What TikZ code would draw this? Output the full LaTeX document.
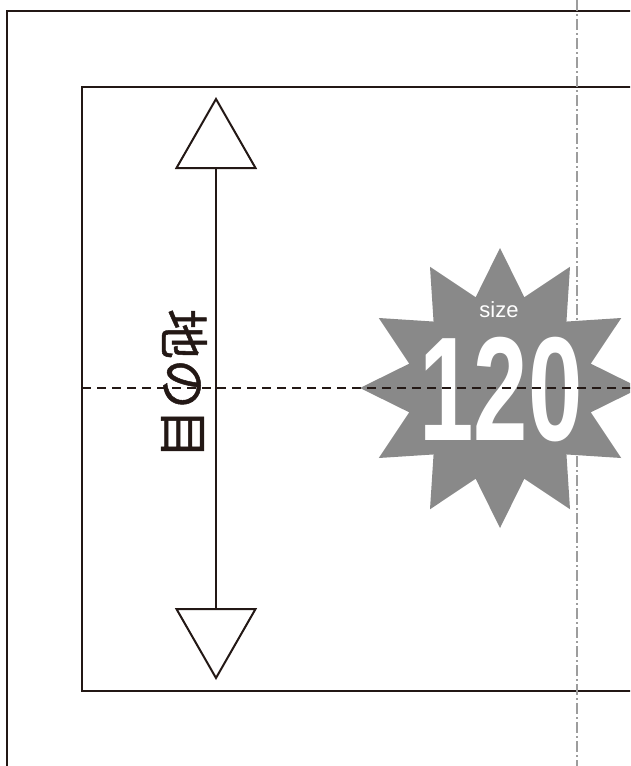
\documentclass[tikz,border=0pt]{standalone}
\usepackage{fontspec}
\setmainfont{Liberation Sans}
\newfontfamily\jpfont[FakeBold=1]{Noto Sans CJK JP}
\usetikzlibrary{arrows.meta,shapes.geometric}
\definecolor{inkblack}{HTML}{231815}
\definecolor{burstgray}{HTML}{898989}
\definecolor{foldgray}{HTML}{9D9D9D}
\tikzset{
  frame/.style={draw=inkblack, line width=2.2pt},
  centerline/.style={draw=inkblack, line width=2pt, dash pattern=on 9pt off 6pt},
  foldline/.style={draw=foldgray, line width=2pt, dash pattern=on 11pt off 3pt on 2pt off 3pt},
  grainarrow/.style={draw=inkblack, line width=2pt,
    {Triangle[open,length=72pt,width=82pt]}-{Triangle[open,length=72pt,width=82pt]}},
  burst/.style={star, star points=12, star point ratio=1.49, minimum size=280pt,
    inner sep=0pt, fill=burstgray},
}
\begin{document}
\begin{tikzpicture}[x=1pt,y=-1pt]
\useasboundingbox (0,0) rectangle (630,766);
\clip (0,0) rectangle (630,766);
\fill[white] (0,0) rectangle (630,766);
% frames
\draw[frame] (7,11) rectangle (700,820);
\draw[frame] (82,87) rectangle (700,691);
\draw[foldline] (577,0) -- (577,766);
% size badge
\node[burst] (badge) at (500,388) {};
\node[text=white, font=\fontsize{22}{22}\selectfont] (sizelabel) at (499,310) {size};
\node[text=white, font=\bfseries\fontsize{148}{148}\selectfont, xscale=0.66] (sizenum) at (501,390) {120};
% centre line
\coordinate (cl) at (82,388);
\coordinate (cr) at (640,388);
\draw[centerline] (cl) -- (cr);
% grain direction
\coordinate (gtop) at (216,97);
\coordinate (gbot) at (216,680);
\draw[grainarrow] (gtop) -- (gbot);
\node[rotate=-90, text=inkblack, font=\jpfont\fontsize{50}{50}\selectfont] (grain) at (184,384) {地の目};
\end{tikzpicture}
\end{document}
